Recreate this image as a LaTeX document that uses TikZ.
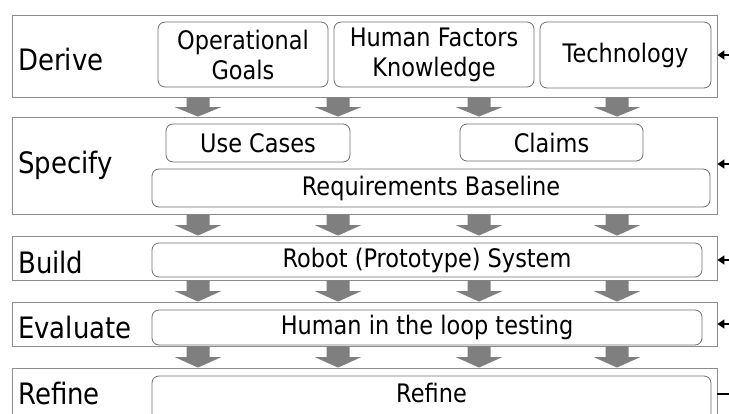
\documentclass[tikz,border=0pt]{standalone}
\usepackage{fontspec}
\setmainfont{DejaVu Sans}[FakeStretch=0.88]
\usetikzlibrary{arrows.meta,calc}

\definecolor{framegray}{HTML}{8C8C8C}
\definecolor{boxgray}{HTML}{6E6E6E}
\definecolor{arrowgray}{HTML}{7F7F7F}

\tikzset{
  stage/.style={draw=framegray, line width=0.9pt, rectangle, minimum width=705, inner sep=0pt},
  item/.style={draw=boxgray, line width=0.8pt, rounded corners=7pt, inner sep=0pt, align=center,
    font=\fontsize{25.5}{30}\selectfont},
  itemtext/.style={inner sep=0pt, font=\fontsize{25.5}{30}\selectfont},
  stagelabel/.style={anchor=west, inner sep=0pt, font=\fontsize{29.5}{34}\selectfont},
  feedback/.style={line width=2pt, -{Triangle[length=7pt,width=9pt]}},
}

% thick grey arrow between two stages at column x = #1
\newcommand\flowarrow[3]{%
  \fill[arrowgray] let \p1=(#2.south), \p2=(#3.north) in
    (#1-11.5,\y1) -- (#1+11.5,\y1) -- (#1+11.5,{(\y1+\y2)/2}) -- (#1+23.5,{(\y1+\y2)/2})
    -- (#1,\y2) -- (#1-23.5,{(\y1+\y2)/2}) -- (#1-11.5,{(\y1+\y2)/2}) -- cycle;}

\begin{document}
\begin{tikzpicture}[x=1pt,y=-1pt]
\useasboundingbox (0,0) rectangle (729,413);

% stage frames
\node[stage, minimum height=82] (derive)   at (364.5,56)    {};
\node[stage, minimum height=97] (specify)  at (364.5,165.5) {};
\node[stage, minimum height=44] (build)    at (364.5,258)   {};
\node[stage, minimum height=44] (evaluate) at (364.5,324)   {};
\node[stage, minimum height=62] (refine)   at (364.5,399)   {};

% stage labels
\node[stagelabel] (lderive)   at (18,59)  {Derive};
\node[stagelabel] (lspecify)  at (18,165) {Specify};
\node[stagelabel] (lbuild)    at (18,262) {Build};
\node[stagelabel] (levaluate) at (18,327) {Evaluate};
\node[stagelabel] (lrefine)   at (18,393) {Refine};

% derive inputs
\node[item, minimum width=170, minimum height=65] (goals) at (243,54.5) {Operational\\Goals};
\node[item, minimum width=200, minimum height=65] (hf)    at (434,54.5) {Human Factors\\Knowledge};
\node[item, minimum width=171, minimum height=66] (tech)  at (625.5,55) {Technology};

% specification
\node[item, minimum width=184, minimum height=38] (usecases) at (258,143)   {Use Cases};
\node[item, minimum width=183, minimum height=37] (claims)   at (551.5,142.5) {Claims};
\node[item, minimum width=558, minimum height=38] (baseline) at (431,188)   {Requirements Baseline};

% build / evaluate / refine
\node[item, minimum width=550, minimum height=34] (robot) at (427,260)   {Robot (Prototype) System};
\node[item, minimum width=550, minimum height=35] (hitl)  at (427,327.5) {Human in the loop testing};
\node[item, minimum width=559, minimum height=54] (refbox) at (431.5,403) {};
\node[itemtext] (reftext) at (431.5,393) {Refine};

% grey flow arrows between stages
\foreach \cx in {198,338,479,617} {
  \flowarrow{\cx}{derive}{specify}
  \flowarrow{\cx}{specify}{build}
  \flowarrow{\cx}{build}{evaluate}
  \flowarrow{\cx}{evaluate}{refine}
}

% feedback line on the right
\coordinate (fb1) at (729,55);
\coordinate (fb2) at (729,164);
\coordinate (fb3) at (729,260);
\coordinate (fb4) at (729,324);
\coordinate (fb5) at (729,394);
\draw[feedback] (fb1) -- (fb1 -| derive.east);
\draw[feedback] (fb2) -- (fb2 -| specify.east);
\draw[feedback] (fb3) -- (fb3 -| build.east);
\draw[feedback] (fb4) -- (fb4 -| evaluate.east);
\draw[line width=2.5pt] (refine.east |- fb5) -- (fb5);
\end{tikzpicture}
\end{document}
